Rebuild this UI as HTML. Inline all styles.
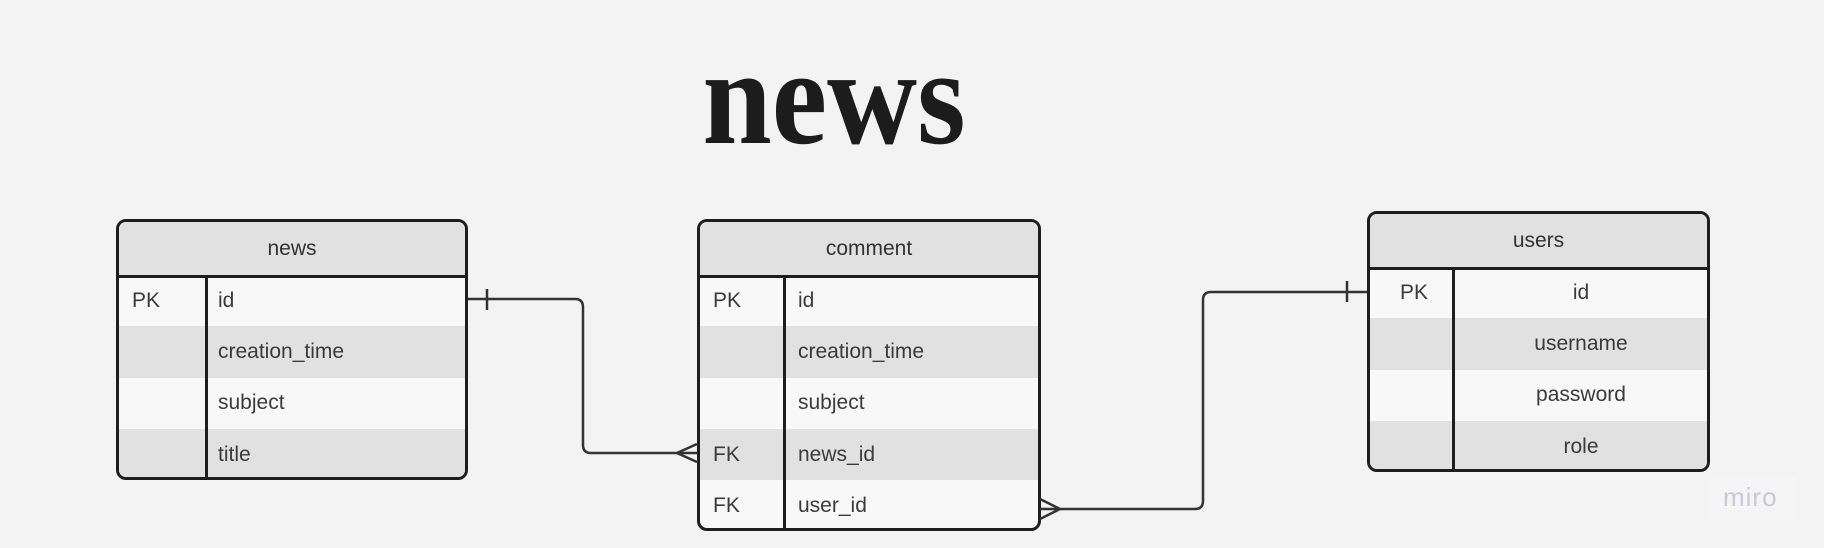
<!DOCTYPE html>
<html><head><meta charset="utf-8"><style>
*{margin:0;padding:0;box-sizing:border-box}
body{width:1824px;height:548px;background:#f3f3f3;position:relative;overflow:hidden;font-family:"Liberation Sans",sans-serif}
.t{position:absolute;border:3px solid #1e1e1e;border-radius:10px;overflow:hidden;background:#f8f8f8}
.h{position:absolute;left:0;right:0;top:0;background:#e1e1e1;border-bottom:3px solid #1e1e1e;color:#333;font-size:21px;display:flex;align-items:center;justify-content:center}
.r{position:absolute;left:0;right:0;height:51.3px;color:#3a3a3a;font-size:21px}
.r.g{background:#e1e1e1}
.r span{position:absolute;top:50%;transform:translateY(-50%)}
.d{position:absolute;top:0;bottom:0;width:2.5px;background:#1e1e1e}
.title{position:absolute;left:834px;top:97px;font-family:"Liberation Serif",serif;font-weight:bold;font-size:137px;color:#1c1c1c;line-height:0;transform:translateX(-50%) scaleX(0.91);white-space:nowrap}
</style></head><body>
<div class="title">news</div>

<div class="t" style="left:116px;top:219px;width:352px;height:261px">
  <div class="h" style="height:56px">news</div>
  <div class="r" style="top:53px"><span style="left:13px">PK</span><span style="left:99px">id</span></div>
  <div class="r g" style="top:104.3px"><span style="left:99px">creation_time</span></div>
  <div class="r" style="top:155.6px"><span style="left:99px">subject</span></div>
  <div class="r g" style="top:206.9px"><span style="left:99px">title</span></div>
  <div class="d" style="left:86px;top:54px"></div>
</div>

<div class="t" style="left:697px;top:219px;width:344px;height:312px">
  <div class="h" style="height:56px">comment</div>
  <div class="r" style="top:53px"><span style="left:13px">PK</span><span style="left:98px">id</span></div>
  <div class="r g" style="top:104.3px"><span style="left:98px">creation_time</span></div>
  <div class="r" style="top:155.6px"><span style="left:98px">subject</span></div>
  <div class="r g" style="top:206.9px"><span style="left:13px">FK</span><span style="left:98px">news_id</span></div>
  <div class="r" style="top:258.2px"><span style="left:13px">FK</span><span style="left:98px">user_id</span></div>
  <div class="d" style="left:83px;top:54px"></div>
</div>

<div class="t" style="left:1367px;top:211px;width:343px;height:261px">
  <div class="h" style="height:56px">users</div>
  <div class="r" style="top:53px"><span style="left:30px">PK</span><span style="left:85px;right:0;text-align:center">id</span></div>
  <div class="r g" style="top:104.3px"><span style="left:85px;right:0;text-align:center">username</span></div>
  <div class="r" style="top:155.6px"><span style="left:85px;right:0;text-align:center">password</span></div>
  <div class="r g" style="top:206.9px"><span style="left:85px;right:0;text-align:center">role</span></div>
  <div class="d" style="left:82px;top:54px"></div>
</div>

<svg width="1824" height="548" style="position:absolute;left:0;top:0" fill="none" stroke="#333" stroke-width="2.5">
  <path d="M468 299 H575 Q583 299 583 307 V445 Q583 453 591 453 H697"/>
  <path d="M487 289 V310"/>
  <path d="M697 444 L677 453 L697 462"/>
  <path d="M1040 509 H1195 Q1203 509 1203 501 V300 Q1203 292 1211 292 H1367"/>
  <path d="M1347 281 V302"/>
  <path d="M1040 499 L1060 509 L1040 519"/>
</svg>

<div style="position:absolute;left:1711px;top:475px;width:85px;height:45px;background:#f5f5f5"></div>
<div style="position:absolute;left:1723px;top:482px;font-size:26px;color:#c9c9d3;font-family:'Liberation Sans',sans-serif;letter-spacing:1px">miro</div>
</body></html>
